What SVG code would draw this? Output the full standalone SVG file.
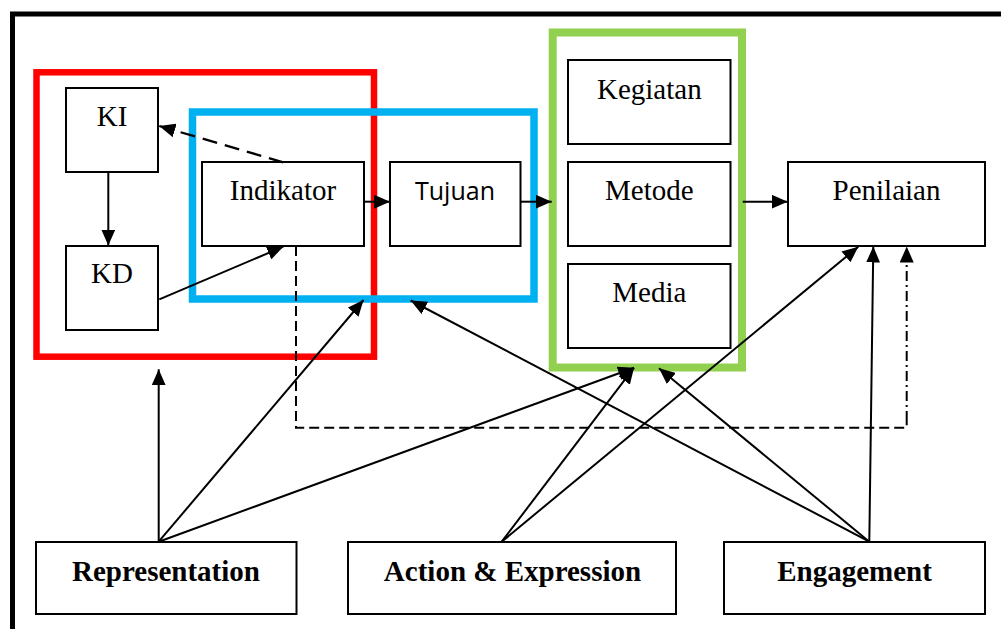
<svg xmlns="http://www.w3.org/2000/svg" width="1001" height="629" viewBox="0 0 1001 629">
<style>
.box{fill:#fff;stroke:#000;stroke-width:2}
.t{font-family:"Liberation Serif","Times New Roman",serif;font-size:29px;fill:#000;text-anchor:middle}
.b{font-weight:bold}
.s{font-family:"Open Sans","Noto Sans",sans-serif;font-size:25px;fill:#000;text-anchor:middle}
.c{fill:none;stroke:#000;stroke-width:2}
.d{stroke-dasharray:10 5}
.d2{stroke-dasharray:15 8;stroke-width:2.3}
.dd{stroke-dasharray:10 4 2 4}
</style>
<defs>
<marker id="ah" markerUnits="userSpaceOnUse" markerWidth="17" markerHeight="14" refX="16" refY="7" orient="auto">
<path d="M0,0 L16,7 L0,14 z" fill="#000"/>
</marker>
</defs>
<rect width="1001" height="629" fill="#fff"/>
<path d="M12.5,629 V14 H1001" fill="none" stroke="#000" stroke-width="5"/>

<g id="group-red"><rect x="36.5" y="72.3" width="337.5" height="284.4" fill="none" stroke="#FF0000" stroke-width="6.5"/></g>

<g id="node-KI"><rect class="box" x="66" y="88" width="92" height="84"/><text class="t" x="112" y="126">KI</text></g>
<g id="node-KD"><rect class="box" x="66" y="246" width="92" height="84"/><text class="t" x="112" y="283">KD</text></g>
<g id="node-Indikator"><rect class="box" x="202" y="162" width="162" height="84"/><text class="t" x="283" y="200">Indikator</text></g>
<g id="node-Tujuan"><rect class="box" x="390" y="162" width="130.5" height="84"/><text class="s" x="455" y="200">Tujuan</text></g>
<g id="node-Kegiatan"><rect class="box" x="568" y="60" width="162.5" height="84"/><text class="t" x="649.3" y="98.5">Kegiatan</text></g>
<g id="node-Metode"><rect class="box" x="568" y="162" width="162.5" height="84"/><text class="t" x="649.3" y="199.5">Metode</text></g>
<g id="node-Media"><rect class="box" x="568" y="264" width="162.5" height="84"/><text class="t" x="649.3" y="301.5">Media</text></g>
<g id="node-Penilaian"><rect class="box" x="788" y="162" width="197" height="84"/><text class="t" x="886.5" y="199.5">Penilaian</text></g>
<g id="node-Representation"><rect class="box" x="36" y="542" width="260.5" height="72"/><text class="t b" x="166" y="581">Representation</text></g>
<g id="node-Action"><rect class="box" x="348" y="542" width="328" height="72"/><text class="t b" x="512.5" y="581">Action &amp; Expression</text></g>
<g id="node-Engagement"><rect class="box" x="724" y="542" width="261" height="72"/><text class="t b" x="854.5" y="581">Engagement</text></g>

<g id="group-blue"><rect x="192.5" y="112" width="341.5" height="187" fill="none" stroke="#00B0F0" stroke-width="7.5"/></g>
<g id="group-green"><rect x="552.7" y="32.5" width="189.3" height="335" fill="none" stroke="#92D050" stroke-width="8"/></g>

<g id="connectors">
<line class="c" x1="108.3" y1="172" x2="108.3" y2="245.5" marker-end="url(#ah)"/>
<line class="c" x1="159.3" y1="299.3" x2="283.3" y2="246.7" marker-end="url(#ah)"/>
<line class="c d2" x1="283.3" y1="162.3" x2="159.3" y2="126" marker-end="url(#ah)"/>
<line class="c" x1="364" y1="201.7" x2="390" y2="201.7" marker-end="url(#ah)"/>
<line class="c" x1="520.5" y1="201.7" x2="551.7" y2="201.7" marker-end="url(#ah)"/>
<line class="c" x1="742.7" y1="201.7" x2="787.7" y2="201.7" marker-end="url(#ah)"/>
<path class="c d" d="M296,246 V427.8 H906.7 V421"/>
<line class="c dd" x1="906.7" y1="421" x2="906.7" y2="246.5" marker-end="url(#ah)"/>
<line class="c" x1="158.7" y1="541.7" x2="158.7" y2="369.3" marker-end="url(#ah)"/>
<line class="c" x1="158.7" y1="541.7" x2="363.5" y2="300" marker-end="url(#ah)"/>
<line class="c" x1="158.7" y1="541.7" x2="634" y2="367.7" marker-end="url(#ah)"/>
<line class="c" x1="501.7" y1="541.7" x2="634" y2="367.7" marker-end="url(#ah)"/>
<line class="c" x1="501.7" y1="541.7" x2="858.3" y2="246.7" marker-end="url(#ah)"/>
<line class="c" x1="869.3" y1="541.7" x2="410.7" y2="300.5" marker-end="url(#ah)"/>
<line class="c" x1="869.3" y1="541.7" x2="659" y2="368.3" marker-end="url(#ah)"/>
<line class="c" x1="869.3" y1="541.7" x2="873.3" y2="246.5" marker-end="url(#ah)"/>
</g>
</svg>
